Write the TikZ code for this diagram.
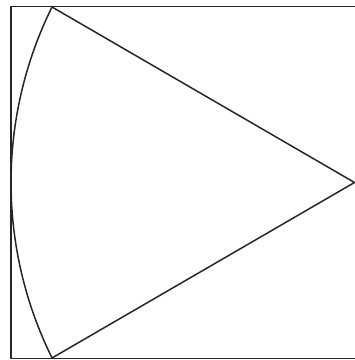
\documentclass[tikz,border=0pt]{standalone}
\begin{document}
\begin{tikzpicture}[x=1pt,y=1pt,
  edge/.style={line width=1.5pt,draw=black!85,line join=round}]
\useasboundingbox (0,0) rectangle (355,360);
\coordinate (T) at (52,353);
\coordinate (B) at (52,2);
\coordinate (R) at (354.5,177.5);
% frame (right side lies outside the picture)
\draw[edge] (360,353.5) -- (11,353.5) -- (11,1.5) -- (360,1.5);
% sector
\draw[edge] (T) -- (R) -- (B);
\draw[edge] (T) arc[start angle=153.7,end angle=206.3,radius=396];
\end{tikzpicture}
\end{document}
